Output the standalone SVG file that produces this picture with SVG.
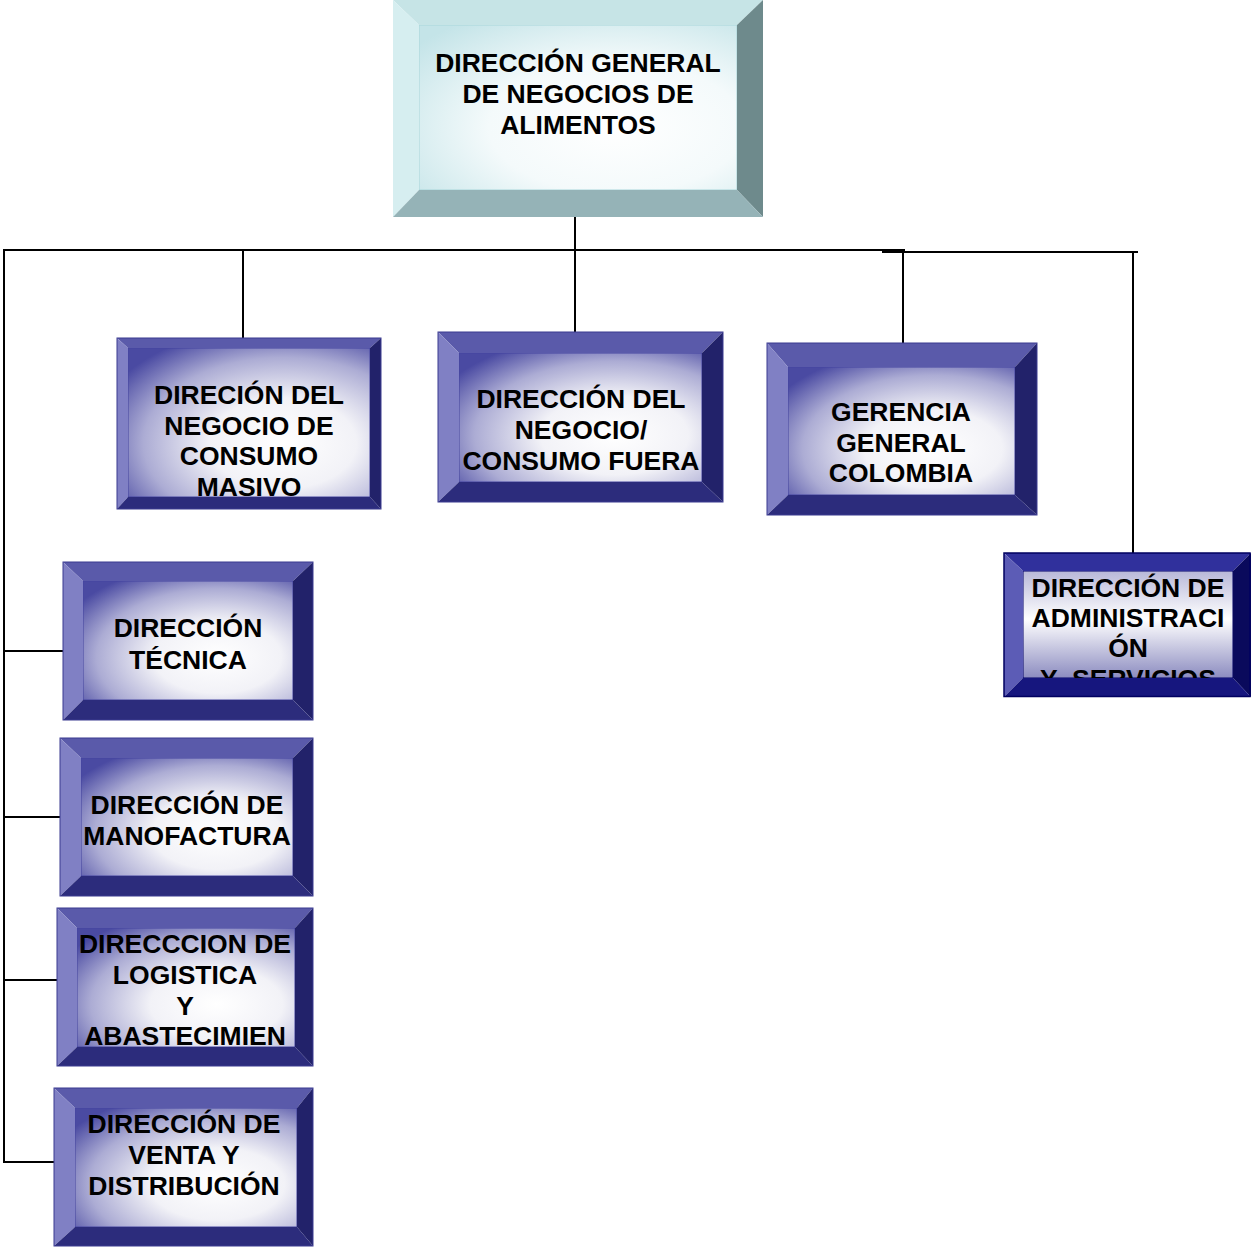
<svg xmlns="http://www.w3.org/2000/svg" width="1251" height="1247" viewBox="0 0 1251 1247">
<defs>
<radialGradient id="gBlue" cx="0.64" cy="0.64" r="0.8">
<stop offset="0" stop-color="#ffffff"/>
<stop offset="0.38" stop-color="#f2f2f7"/>
<stop offset="0.72" stop-color="#acacd4"/>
<stop offset="1" stop-color="#4a4aa2"/>
</radialGradient>
<radialGradient id="gCyan" cx="0.62" cy="0.62" r="0.8">
<stop offset="0" stop-color="#ffffff"/>
<stop offset="0.5" stop-color="#f4fafb"/>
<stop offset="1" stop-color="#c4e4e8"/>
</radialGradient>
<linearGradient id="gAdmin" x1="0" y1="0" x2="0" y2="1">
<stop offset="0" stop-color="#b8b8d8"/>
<stop offset="0.45" stop-color="#ffffff"/>
<stop offset="1" stop-color="#8c8cc0"/>
</linearGradient>
</defs>
<style>
.lbl{font-family:"Liberation Sans",Arial,sans-serif;font-weight:bold;font-size:26.5px;fill:#000;text-anchor:middle}
.con{stroke:#000;stroke-width:2;fill:none}
.bt{fill:#5a5aaa}.bl{fill:#8080c4}.br{fill:#22226a}.bb{fill:#2c2c7c}
.face{fill:url(#gBlue);stroke:#4444a0;stroke-width:1}
.out{fill:none;stroke:#3a3a90;stroke-width:1}
.ct{fill:#c6e4e6}.cl{fill:#d6eef0}.cr{fill:#6e8a8c}.cb{fill:#95b3b7}
.cface{fill:url(#gCyan);stroke:#a8d6da;stroke-width:1}
.at{fill:#30309c}.al{fill:#5c5cb6}.ar{fill:#0a0a5c}.ab{fill:#16167e}
.aface{fill:url(#gAdmin);stroke:#000066;stroke-width:1}
</style>

<g id="connectors">
<line class="con" x1="3" y1="250" x2="905" y2="250"/>
<line class="con" x1="882" y1="252" x2="1138" y2="252"/>
<line class="con" x1="4" y1="250" x2="4" y2="1163"/>
<line class="con" x1="575" y1="217" x2="575" y2="332"/>
<line class="con" x1="243" y1="250" x2="243" y2="338"/>
<line class="con" x1="903" y1="250" x2="903" y2="343"/>
<line class="con" x1="1133" y1="252" x2="1133" y2="553"/>
<line class="con" x1="4" y1="651" x2="63" y2="651"/>
<line class="con" x1="4" y1="817" x2="60" y2="817"/>
<line class="con" x1="4" y1="980" x2="57" y2="980"/>
<line class="con" x1="4" y1="1162" x2="54" y2="1162"/>
</g>

<g id="node-direccion-general">
<rect class="cface" x="419" y="25" width="318" height="165"/>
<polygon class="ct" points="393,0 763,0 737,25 419,25"/>
<polygon class="cl" points="393,0 419,25 419,190 393,217"/>
<polygon class="cr" points="763,0 763,217 737,190 737,25"/>
<polygon class="cb" points="393,217 419,190 737,190 763,217"/>
<text class="lbl" x="578" y="72">DIRECCIÓN GENERAL</text>
<text class="lbl" x="578" y="103">DE NEGOCIOS DE</text>
<text class="lbl" x="578" y="134">ALIMENTOS</text>
</g>

<g id="node-consumo-masivo">
<rect class="face" x="128" y="348" width="242" height="149"/>
<text class="lbl" x="249" y="404">DIRECIÓN DEL</text>
<text class="lbl" x="249" y="435">NEGOCIO DE</text>
<text class="lbl" x="249" y="465">CONSUMO</text>
<text class="lbl" x="249" y="496">MASIVO</text>
<polygon class="bt" points="117,338 381,338 370,348 128,348"/>
<polygon class="bl" points="117,338 128,348 128,497 117,509"/>
<polygon class="br" points="381,338 381,509 370,497 370,348"/>
<polygon class="bb" points="117,509 128,497 370,497 381,509"/>
<rect class="out" x="117" y="338" width="264" height="171"/>
</g>

<g id="node-consumo-fuera">
<rect class="face" x="459" y="353" width="243" height="129"/>
<text class="lbl" x="581" y="408">DIRECCIÓN DEL</text>
<text class="lbl" x="581" y="439">NEGOCIO/</text>
<text class="lbl" x="581" y="470">CONSUMO FUERA</text>
<polygon class="bt" points="438,332 723,332 702,353 459,353"/>
<polygon class="bl" points="438,332 459,353 459,482 438,502"/>
<polygon class="br" points="723,332 723,502 702,482 702,353"/>
<polygon class="bb" points="438,502 459,482 702,482 723,502"/>
<rect class="out" x="438" y="332" width="285" height="170"/>
</g>

<g id="node-gerencia-colombia">
<rect class="face" x="788" y="367" width="227" height="128"/>
<text class="lbl" x="901" y="421">GERENCIA</text>
<text class="lbl" x="901" y="452">GENERAL</text>
<text class="lbl" x="901" y="482">COLOMBIA</text>
<polygon class="bt" points="767,343 1037,343 1015,367 788,367"/>
<polygon class="bl" points="767,343 788,367 788,495 767,515"/>
<polygon class="br" points="1037,343 1037,515 1015,495 1015,367"/>
<polygon class="bb" points="767,515 788,495 1015,495 1037,515"/>
<rect class="out" x="767" y="343" width="270" height="172"/>
</g>

<g id="node-administracion">
<rect class="aface" x="1023" y="571" width="210" height="107"/>
<text class="lbl" x="1128" y="597">DIRECCIÓN DE</text>
<text class="lbl" x="1128" y="627">ADMINISTRACI</text>
<text class="lbl" x="1128" y="657">ÓN</text>
<text class="lbl" x="1128" y="688" xml:space="preserve">Y  SERVICIOS</text>
<polygon class="at" points="1004,553 1251,553 1233,571 1023,571"/>
<polygon class="al" points="1004,553 1023,571 1023,678 1004,697"/>
<polygon class="ar" points="1251,553 1251,697 1233,678 1233,571"/>
<polygon class="ab" points="1004,697 1023,678 1233,678 1251,697"/>
<rect x="1004" y="553" width="246" height="143.5" fill="none" stroke="#000060" stroke-width="1.5"/>
</g>

<g id="node-tecnica">
<rect class="face" x="83" y="581" width="210" height="119"/>
<text class="lbl" x="188" y="637">DIRECCIÓN</text>
<text class="lbl" x="188" y="669">TÉCNICA</text>
<polygon class="bt" points="63,562 313,562 293,581 83,581"/>
<polygon class="bl" points="63,562 83,581 83,700 63,720"/>
<polygon class="br" points="313,562 313,720 293,700 293,581"/>
<polygon class="bb" points="63,720 83,700 293,700 313,720"/>
<rect class="out" x="63" y="562" width="250" height="158"/>
</g>

<g id="node-manufactura">
<rect class="face" x="81" y="758" width="212" height="118"/>
<text class="lbl" x="187" y="814">DIRECCIÓN DE</text>
<text class="lbl" x="187" y="845">MANOFACTURA</text>
<polygon class="bt" points="60,738 313,738 293,758 81,758"/>
<polygon class="bl" points="60,738 81,758 81,876 60,896"/>
<polygon class="br" points="313,738 313,896 293,876 293,758"/>
<polygon class="bb" points="60,896 81,876 293,876 313,896"/>
<rect class="out" x="60" y="738" width="253" height="158"/>
</g>

<g id="node-logistica">
<rect class="face" x="77" y="928" width="218" height="119"/>
<text class="lbl" x="185" y="953">DIRECCCION DE</text>
<text class="lbl" x="185" y="984">LOGISTICA</text>
<text class="lbl" x="185" y="1015">Y</text>
<text class="lbl" x="185" y="1045">ABASTECIMIEN</text>
<polygon class="bt" points="57,908 313,908 295,928 77,928"/>
<polygon class="bl" points="57,908 77,928 77,1047 57,1066"/>
<polygon class="br" points="313,908 313,1066 295,1047 295,928"/>
<polygon class="bb" points="57,1066 77,1047 295,1047 313,1066"/>
<rect class="out" x="57" y="908" width="256" height="158"/>
</g>

<g id="node-venta">
<rect class="face" x="75" y="1108" width="222" height="119"/>
<text class="lbl" x="184" y="1133">DIRECCIÓN DE</text>
<text class="lbl" x="184" y="1164">VENTA Y</text>
<text class="lbl" x="184" y="1195">DISTRIBUCIÓN</text>
<polygon class="bt" points="54,1088 313,1088 297,1108 75,1108"/>
<polygon class="bl" points="54,1088 75,1108 75,1227 54,1246"/>
<polygon class="br" points="313,1088 313,1246 297,1227 297,1108"/>
<polygon class="bb" points="54,1246 75,1227 297,1227 313,1246"/>
<rect class="out" x="54" y="1088" width="259" height="158"/>
</g>
</svg>
